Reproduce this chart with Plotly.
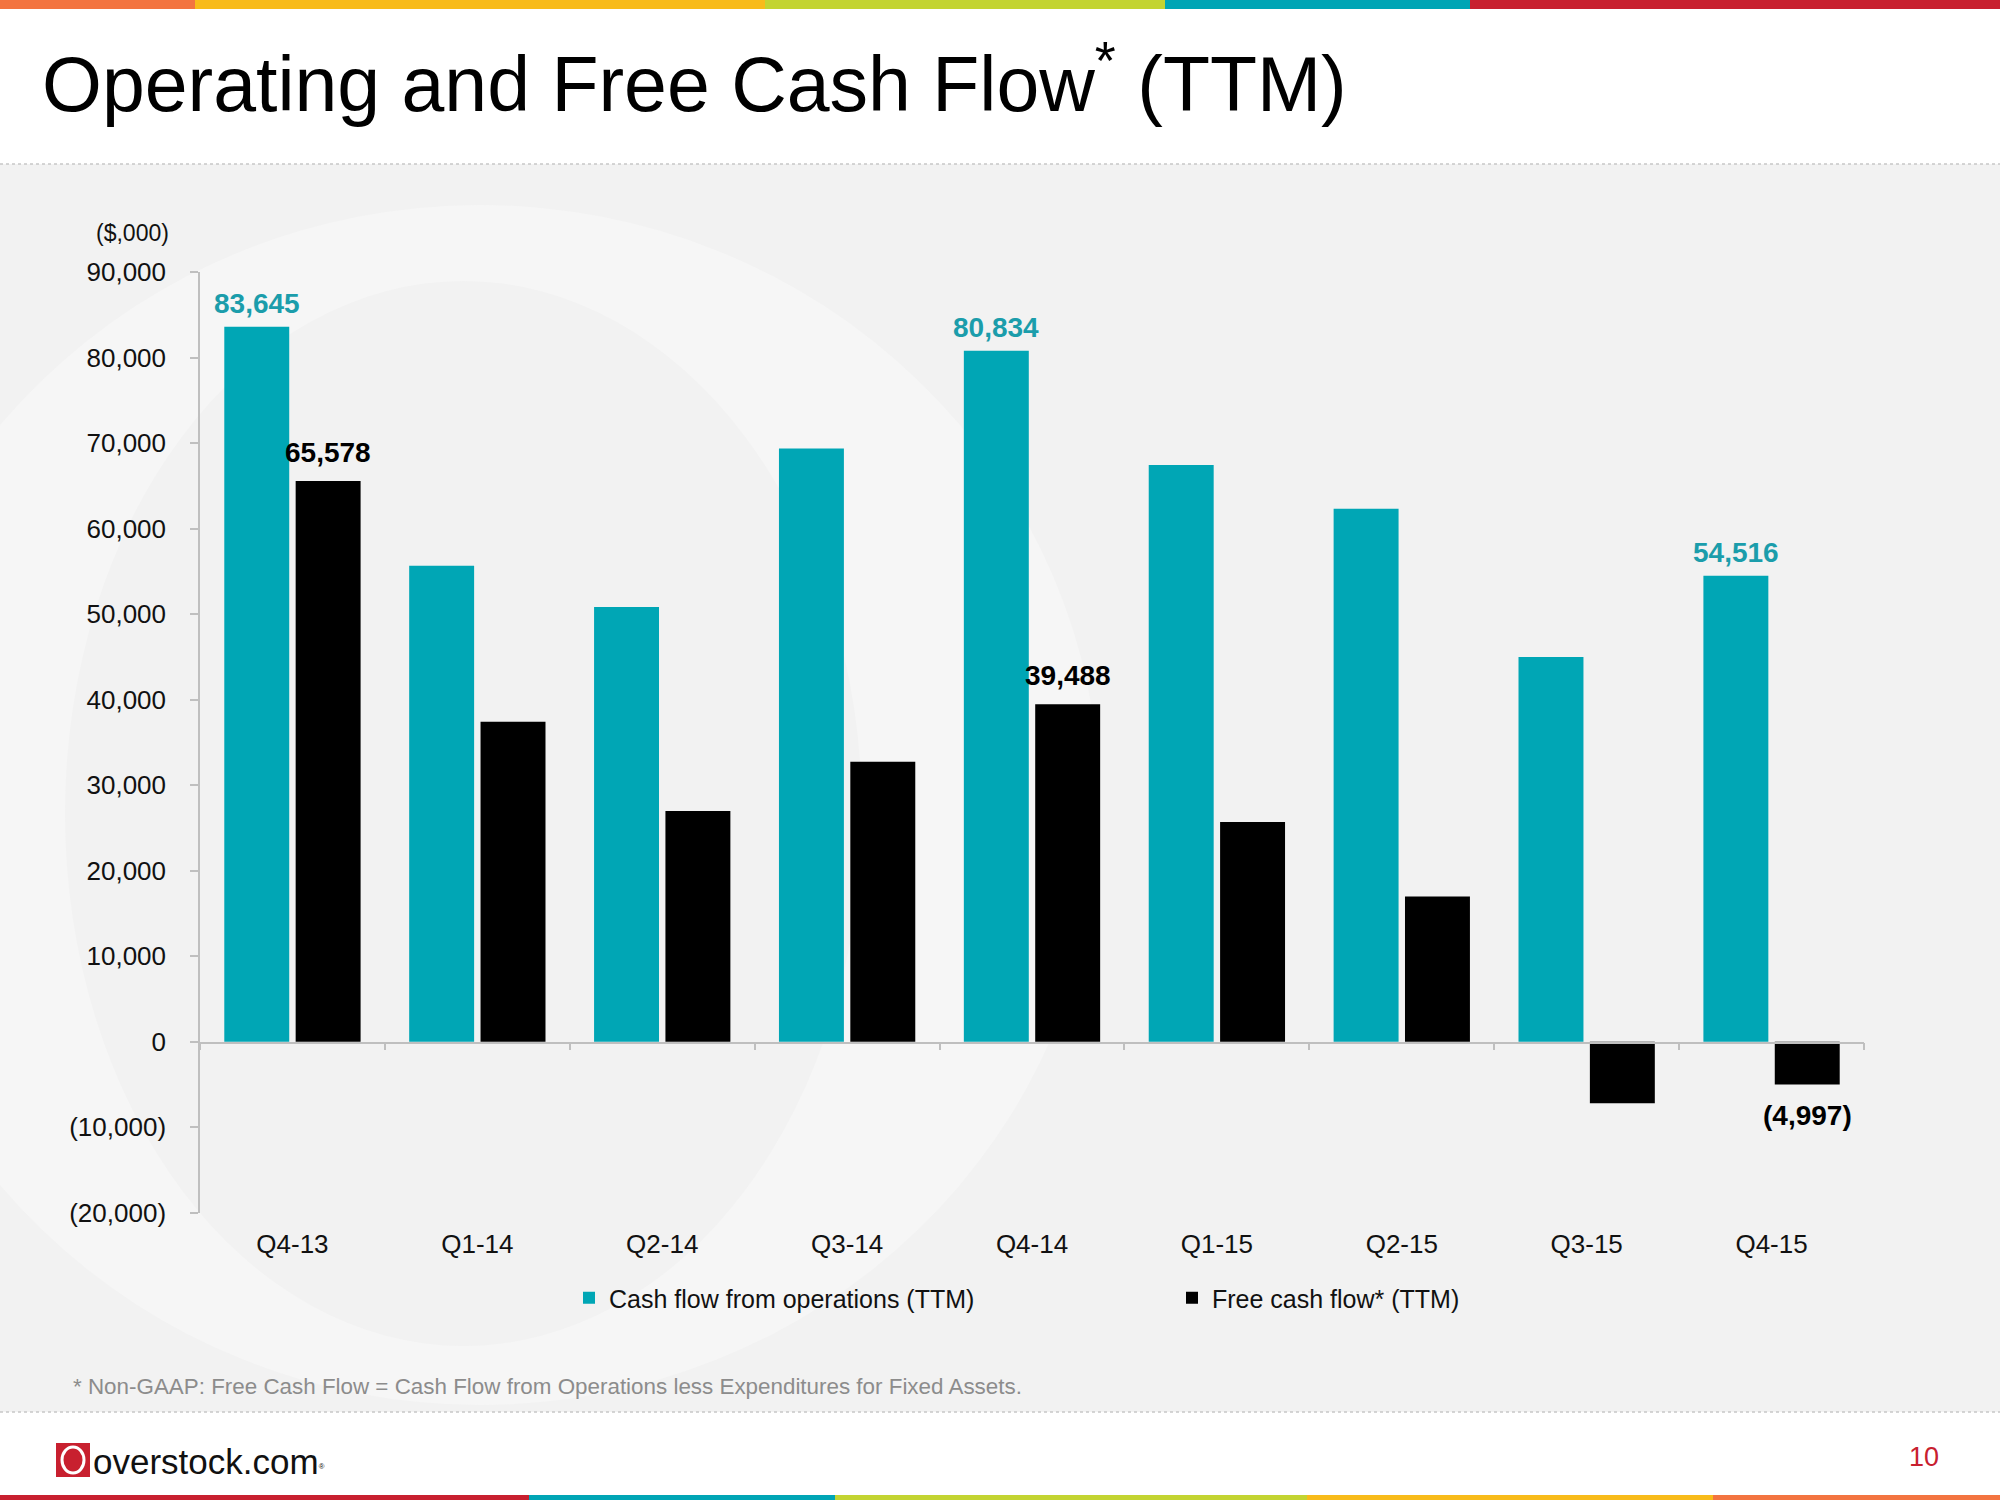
import plotly.graph_objects as go

# ---------------- data ----------------
quarters = ["Q4-13", "Q1-14", "Q2-14", "Q3-14", "Q4-14", "Q1-15", "Q2-15", "Q3-15", "Q4-15"]
cash_ops = [83645, 55670, 50840, 69380, 80834, 67470, 62330, 45000, 54516]
free_cf = [65578, 37440, 27000, 32760, 39488, 25710, 16980, -7210, -4997]
labelled_quarters = ["Q4-13", "Q4-14", "Q4-15"]
y_tick_vals = [-20000, -10000, 0, 10000, 20000, 30000, 40000, 50000, 60000, 70000, 80000, 90000]
y_tick_text = ["(20,000)", "(10,000)", "0", "10,000", "20,000", "30,000", "40,000",
               "50,000", "60,000", "70,000", "80,000", "90,000"]
series_names = ["Cash flow from operations (TTM)", "Free cash flow* (TTM)"]

W, H = 2000, 1500
FONT = "Liberation Sans, Arial, sans-serif"
TEAL = "#00A6B5"
TEAL_TXT = "#1B9DAB"
BARGAP = 0.228
BARGROUPGAP = 0.09


def fmt(v):
    s = f"{abs(v):,}"
    return f"({s})" if v < 0 else s


def px_x(p):
    return p / W


def px_y(p):
    return 1 - p / H


y_range = [-20000, 90000]
y_dom = [px_y(1212.7), px_y(272.3)]
x_dom = [px_x(200), px_x(1864)]
zero_paper = y_dom[0] + (0 - y_range[0]) / (y_range[1] - y_range[0]) * (y_dom[1] - y_dom[0])

fig = go.Figure()
fig.add_trace(go.Bar(
    x=quarters, y=cash_ops, name=series_names[0], marker=dict(color=TEAL, line=dict(width=0)),
    hoverinfo="skip"))
fig.add_trace(go.Bar(
    x=quarters, y=free_cf, name=series_names[1], marker=dict(color="#000000", line=dict(width=0)),
    hoverinfo="skip"))
# helper trace registering categories on the zero-line axis
fig.add_trace(go.Scatter(x=quarters, y=[None] * len(quarters), xaxis="x2", yaxis="y2",
                         mode="markers", showlegend=False, hoverinfo="skip"))

shapes = []
# grey content band
shapes.append(dict(type="rect", xref="paper", yref="paper", x0=0, x1=1, y0=px_y(1412), y1=px_y(164),
                   fillcolor="#F2F2F2", line=dict(width=0), layer="below"))
# watermark "O"
shapes.append(dict(type="circle", xref="paper", yref="paper", x0=px_x(-140), x1=px_x(1100),
                   y0=px_y(1405), y1=px_y(205), fillcolor="#F6F6F6", line=dict(width=0), layer="below"))
shapes.append(dict(type="circle", xref="paper", yref="paper", x0=px_x(65), x1=px_x(862),
                   y0=px_y(1346), y1=px_y(281), fillcolor="#F2F2F2", line=dict(width=0), layer="below"))
# dotted separators
for yy in (164, 1412):
    shapes.append(dict(type="line", xref="paper", yref="paper", x0=0, x1=1, y0=px_y(yy), y1=px_y(yy),
                       line=dict(color="#C8C8C8", width=1.5, dash="dot"), layer="below"))
# top colour strip
top_strip = [(0, 195, "#F37440"), (195, 765, "#F8BB1A"), (765, 1165, "#C3D431"),
             (1165, 1470, "#00A5B5"), (1470, 2000, "#C8202F")]
for a, b, c in top_strip:
    shapes.append(dict(type="rect", xref="paper", yref="paper", x0=px_x(a), x1=px_x(b),
                       y0=px_y(9), y1=1, fillcolor=c, line=dict(width=0), layer="below"))
bottom_strip = [(0, 529, "#C8202F"), (529, 835, "#00A5B5"), (835, 1307, "#C3D431"),
                (1307, 1713, "#F8BB1A"), (1713, 2000, "#F37440")]
for a, b, c in bottom_strip:
    shapes.append(dict(type="rect", xref="paper", yref="paper", x0=px_x(a), x1=px_x(b),
                       y0=0, y1=px_y(1495), fillcolor=c, line=dict(width=0), layer="below"))
# logo mark
shapes.append(dict(type="rect", xref="paper", yref="paper", x0=px_x(56), x1=px_x(90),
                   y0=px_y(1477), y1=px_y(1443), fillcolor="#C8202F", line=dict(width=0), layer="below"))
shapes.append(dict(type="circle", xref="paper", yref="paper", x0=px_x(62), x1=px_x(84),
                   y0=px_y(1473), y1=px_y(1447), fillcolor="rgba(0,0,0,0)",
                   line=dict(color="white", width=3), layer="below"))

annotations = [
    dict(text="Operating and Free Cash Flow<sup>*</sup> (TTM)", x=px_x(40), y=px_y(79),
         xanchor="left", yanchor="middle", font=dict(family=FONT, size=77, color="#000000")),
    dict(text="($,000)", x=px_x(171), y=px_y(233), xanchor="right", yanchor="middle",
         font=dict(family=FONT, size=23, color="#111111")),
    dict(text="* Non-GAAP: Free Cash Flow = Cash Flow from Operations less Expenditures for Fixed Assets.",
         x=px_x(71), y=px_y(1386), xanchor="left", yanchor="middle",
         font=dict(family=FONT, size=22.4, color="#8C8C8C")),
    dict(text="overstock.com<span style='font-size:11px'><sup>®</sup></span>", x=px_x(91), y=px_y(1461),
         xanchor="left", yanchor="middle", font=dict(family=FONT, size=35, color="#111111")),
    dict(text="10", x=px_x(1924), y=px_y(1457), xanchor="center", yanchor="middle",
         font=dict(family=FONT, size=27, color="#C8202F")),
]
for a in annotations:
    a.update(xref="paper", yref="paper", showarrow=False)

# data labels on selected bars, offset to each bar of the group
cat_px = (x_dom[1] - x_dom[0]) * W / len(quarters)
slot_px = (1 - BARGAP) * cat_px / 2
for vals, col, sign, gap in ((cash_ops, TEAL_TXT, -1, 23), (free_cf, "#000000", 1, 29)):
    for q, v in zip(quarters, vals):
        if q not in labelled_quarters:
            continue
        annotations.append(dict(
            x=q, y=v, xref="x", yref="y", text=f"<b>{fmt(v)}</b>", showarrow=False,
            xanchor="center", yanchor="middle", xshift=sign * slot_px / 2,
            yshift=gap if v >= 0 else -(gap + 2),
            font=dict(family=FONT, size=28, color=col)))

fig.update_layout(
    width=W, height=H, margin=dict(l=0, r=0, t=0, b=0, pad=0, autoexpand=False),
    paper_bgcolor="white", plot_bgcolor="rgba(0,0,0,0)",
    font=dict(family=FONT, size=25, color="#111111"),
    barmode="group", bargap=BARGAP, bargroupgap=BARGROUPGAP,
    shapes=shapes, annotations=annotations,
    showlegend=True,
    legend=dict(orientation="h", x=px_x(569), y=px_y(1298), xanchor="left", yanchor="middle",
                font=dict(family=FONT, size=25, color="#111111"), entrywidth=558,
                bgcolor="rgba(0,0,0,0)", traceorder="normal"),
    xaxis=dict(domain=x_dom, type="category", categoryorder="array", categoryarray=quarters,
               range=[-0.5, len(quarters) - 0.5], showline=False, ticks="", showgrid=False,
               zeroline=False, ticklabelstandoff=13, automargin=False,
               tickfont=dict(family=FONT, size=26, color="#111111"), fixedrange=True),
    yaxis=dict(domain=y_dom, range=y_range, tickvals=y_tick_vals, ticktext=y_tick_text,
               showline=True, linecolor="#BFBFBF", linewidth=1.5, ticks="outside", ticklen=8,
               tickcolor="#BFBFBF", tickwidth=1.5, showgrid=False, zeroline=False, automargin=False,
               ticklabelstandoff=19, tickfont=dict(family=FONT, size=26, color="#111111"),
               fixedrange=True),
    xaxis2=dict(domain=x_dom, anchor="y2", type="category", categoryorder="array",
                categoryarray=quarters, range=[-0.5, len(quarters) - 0.5], showline=True,
                linecolor="#BFBFBF", linewidth=1.5, ticks="outside", tickson="boundaries",
                ticklen=7, tickcolor="#BFBFBF", tickwidth=1.5, showticklabels=False,
                showgrid=False, zeroline=False, fixedrange=True, automargin=False),
    yaxis2=dict(domain=[zero_paper, zero_paper + 0.0005], anchor="x2", visible=False,
                fixedrange=True, automargin=False),
)

fig.write_html("out.html", config={"displayModeBar": False},
               post_script="document.body.style.margin='0';document.body.style.overflow='hidden';")
